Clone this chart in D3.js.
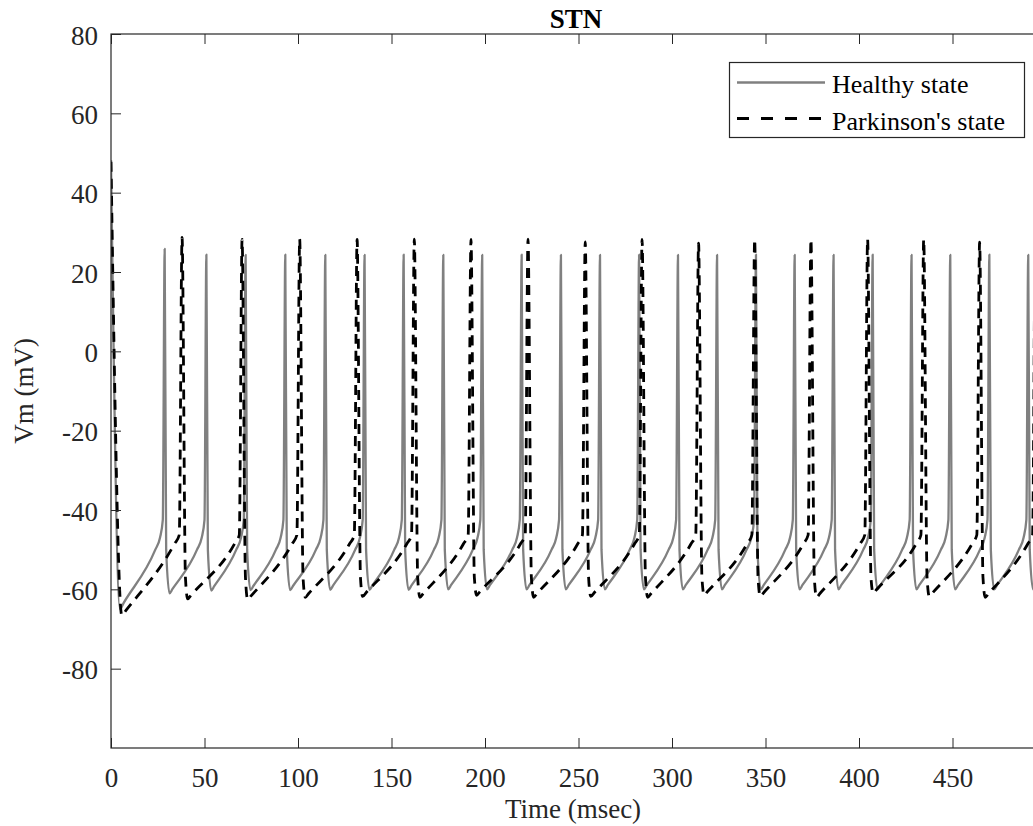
<!DOCTYPE html>
<html>
<head>
<meta charset="utf-8">
<script src="https://cdn.jsdelivr.net/npm/d3@7"></script>
<style>
  body { margin: 0; background: #fff; }
  svg { display: block; }
  text { font-family: "Liberation Serif", "Times New Roman", serif; }
</style>
</head>
<body>
<svg id="chart" width="1033" height="826"></svg>
<script>
// ---------------- data ----------------
const xTickValues = [0, 50, 100, 150, 200, 250, 300, 350, 400, 450];
const yTickValues = [-80, -60, -40, -20, 0, 20, 40, 60, 80];
const xDomain = [0, 500];
const yDomain = [-100, 80];

const seriesNames = ["Healthy state", "Parkinson's state"];

// Healthy state: initial transient, then spike times / peaks / troughs
const healthyOnsetMs = [0, 4.8, 6.8];
const healthyOnsetMv = [48.2, -65.0, -63.4];
const healthySpikeMs = [28.7, 51.0, 72.0, 93.2, 114.6, 135.6, 156.5, 177.7, 198.5, 219.6, 240.6, 261.5,
                        282.4, 303.2, 324.1, 344.9, 365.6, 386.4, 407.3, 428.1, 448.8, 469.7, 490.5];
const healthyPeakMv  = [25.8, 24.4, 24.3, 24.4, 24.3, 24.3, 24.4, 24.3, 24.3, 24.4, 24.3, 24.3,
                        24.4, 24.3, 24.3, 24.4, 24.3, 24.3, 24.4, 24.3, 24.3, 24.4, 24.3];
const healthyTroughMv = [-61.0, -60.3, -60.2, -60.2, -60.1, -60.1, -60.1, -60.0, -60.0, -60.0, -60.0, -60.0,
                         -60.0, -60.0, -60.0, -60.0, -60.0, -60.0, -60.0, -60.0, -60.0, -60.0, -60.0];
// typical waveform around a spike (ms relative to the spike, mV)
const healthyPreSpikeMs = [-5.0, -2.5, -1.0];
const healthyPreSpikeMv = [-50.0, -47.0, -42.5];
const healthyFallMs = [0.8];
const healthyFallMv = [-50.0];
const healthyTroughDelayMs = 2.6;
const healthyRecoveryMs = 1.6;     // after the trough
const healthyRecoveryRiseMv = 1.1; // above the trough

// Parkinson's state
const parkOnsetMs = [0, 5.8, 8.0];
const parkOnsetMv = [47.8, -66.6, -65.3];
const parkSpikeMs = [38.0, 70.1, 100.9, 131.6, 162.2, 192.5, 223.0, 253.6, 284.0, 314.2, 344.2, 374.3,
                     404.6, 434.6, 464.5, 494.3];
const parkPeakMv  = [28.7, 28.2, 28.3, 28.2, 28.3, 28.2, 28.3, 27.6, 28.2, 27.3, 28.3, 28.2,
                     28.3, 28.2, 27.5, 28.0];
const parkTroughMv = [-62.4, -62.6, -62.0, -61.8, -62.0, -61.5, -62.0, -61.8, -62.0, -61.5, -61.8, -62.0,
                      -61.0, -61.8, -62.0, -62.0];
const parkPreSpikeMs = [-4.0, -1.5];
const parkPreSpikeMv = [-48.5, -46.3];
const parkFallMs = [1.8];
const parkFallMv = [-57.0];
const parkTroughDelayMs = 3.0;
const parkRecoveryMs = 1.8;
const parkRecoveryRiseMv = 0.95;

// ---------------- layout ----------------
const plot = { left: 111, right: 1046, top: 34, bottom: 748 };
const axisColor = "#262626";
const fontSize = 27;

const svg = d3.select("#chart");
const x = d3.scaleLinear().domain(xDomain).range([plot.left, plot.right]);
const y = d3.scaleLinear().domain(yDomain).range([plot.bottom, plot.top]);

function buildPoints(s) {
  const pts = s.onMs.map((t, i) => [t, s.onMv[i]]);
  s.spMs.forEach((t, i) => {
    s.preMs.forEach((d, k) => pts.push([t + d, s.preMv[k]]));
    pts.push([t, s.pkMv[i]]);
    s.fallMs.forEach((d, k) => pts.push([t + d, s.fallMv[k]]));
    pts.push([t + s.trDelay, s.trMv[i]]);
    pts.push([t + s.trDelay + s.recMs, s.trMv[i] + s.recMv]);
  });
  return pts;
}

const healthyPts = buildPoints({
  onMs: healthyOnsetMs, onMv: healthyOnsetMv, spMs: healthySpikeMs, pkMv: healthyPeakMv, trMv: healthyTroughMv,
  preMs: healthyPreSpikeMs, preMv: healthyPreSpikeMv, fallMs: healthyFallMs, fallMv: healthyFallMv,
  trDelay: healthyTroughDelayMs, recMs: healthyRecoveryMs, recMv: healthyRecoveryRiseMv });
const parkPts = buildPoints({
  onMs: parkOnsetMs, onMv: parkOnsetMv, spMs: parkSpikeMs, pkMv: parkPeakMv, trMv: parkTroughMv,
  preMs: parkPreSpikeMs, preMv: parkPreSpikeMv, fallMs: parkFallMs, fallMv: parkFallMv,
  trDelay: parkTroughDelayMs, recMs: parkRecoveryMs, recMv: parkRecoveryRiseMv });

svg.append("defs").append("clipPath").attr("id", "plotClip")
  .append("rect")
  .attr("x", plot.left).attr("y", plot.top)
  .attr("width", plot.right - plot.left).attr("height", plot.bottom - plot.top);

const line = d3.line().x(d => x(d[0])).y(d => y(d[1])).curve(d3.curveMonotoneX);

const lines = svg.append("g").attr("clip-path", "url(#plotClip)");
lines.append("path").datum(healthyPts)
  .attr("fill", "none").attr("stroke", "#808080").attr("stroke-width", 2.3)
  .attr("stroke-linejoin", "round")
  .attr("d", line);
lines.append("path").datum(parkPts)
  .attr("fill", "none").attr("stroke", "#000").attr("stroke-width", 2.8)
  .attr("stroke-dasharray", "10,7")
  .attr("d", line);

// ---------------- axes ----------------
const fmt = d => String(d);   // plain hyphen-minus as in the reference

const gx = svg.append("g").attr("transform", `translate(0,${plot.bottom})`)
  .call(d3.axisBottom(x).tickValues(xTickValues).tickSizeInner(-10).tickSizeOuter(0).tickFormat(fmt));
gx.select(".domain").remove();
gx.selectAll(".tick line").attr("stroke", axisColor);
gx.selectAll(".tick text").attr("y", 39).attr("dy", 0)
  .attr("font-size", fontSize).attr("fill", axisColor)
  .style("font-family", '"Liberation Serif", serif');

const gxTop = svg.append("g").attr("transform", `translate(0,${plot.top})`)
  .call(d3.axisTop(x).tickValues(xTickValues).tickSizeInner(-10).tickSizeOuter(0).tickFormat(""));
gxTop.select(".domain").remove();
gxTop.selectAll(".tick line").attr("stroke", axisColor);

const gy = svg.append("g").attr("transform", `translate(${plot.left},0)`)
  .call(d3.axisLeft(y).tickValues(yTickValues).tickSizeInner(-10).tickSizeOuter(0).tickFormat(fmt));
gy.select(".domain").remove();
gy.selectAll(".tick line").attr("stroke", axisColor);
gy.selectAll(".tick text").attr("x", -13).attr("dy", "0.37em")
  .attr("font-size", fontSize).attr("fill", axisColor)
  .style("font-family", '"Liberation Serif", serif');

// box
svg.append("rect")
  .attr("x", plot.left).attr("y", plot.top)
  .attr("width", plot.right - plot.left).attr("height", plot.bottom - plot.top)
  .attr("fill", "none").attr("stroke", axisColor).attr("stroke-width", 1.2);

// ---------------- titles ----------------
svg.append("text").attr("x", 576).attr("y", 28).attr("text-anchor", "middle")
  .attr("font-size", fontSize).attr("font-weight", "bold").attr("fill", "#000").text("STN");
svg.append("text").attr("x", 573).attr("y", 818).attr("text-anchor", "middle")
  .attr("font-size", fontSize).attr("fill", axisColor).text("Time (msec)");
svg.append("text").attr("transform", "translate(33,391) rotate(-90)").attr("text-anchor", "middle")
  .attr("font-size", fontSize).attr("fill", axisColor).text("Vm (mV)");

// ---------------- legend ----------------
const lg = svg.append("g");
lg.append("rect").attr("x", 729.5).attr("y", 62.5).attr("width", 295).attr("height", 75)
  .attr("fill", "#fff").attr("stroke", axisColor).attr("stroke-width", 1.2);
const legendRows = [
  { name: seriesNames[0], y: 82.5, stroke: "#808080", width: 2.3, dash: null, ty: 92.5 },
  { name: seriesNames[1], y: 118.5, stroke: "#000", width: 2.8, dash: "12,12", ty: 129.5 }
];
legendRows.forEach(r => {
  lg.append("line").attr("x1", 737).attr("x2", 825).attr("y1", r.y).attr("y2", r.y)
    .attr("stroke", r.stroke).attr("stroke-width", r.width)
    .attr("stroke-dasharray", r.dash);
  lg.append("text").attr("x", 832).attr("y", r.ty).attr("font-size", 26)
    .attr("fill", "#000").text(r.name);
});
</script>
</body>
</html>
